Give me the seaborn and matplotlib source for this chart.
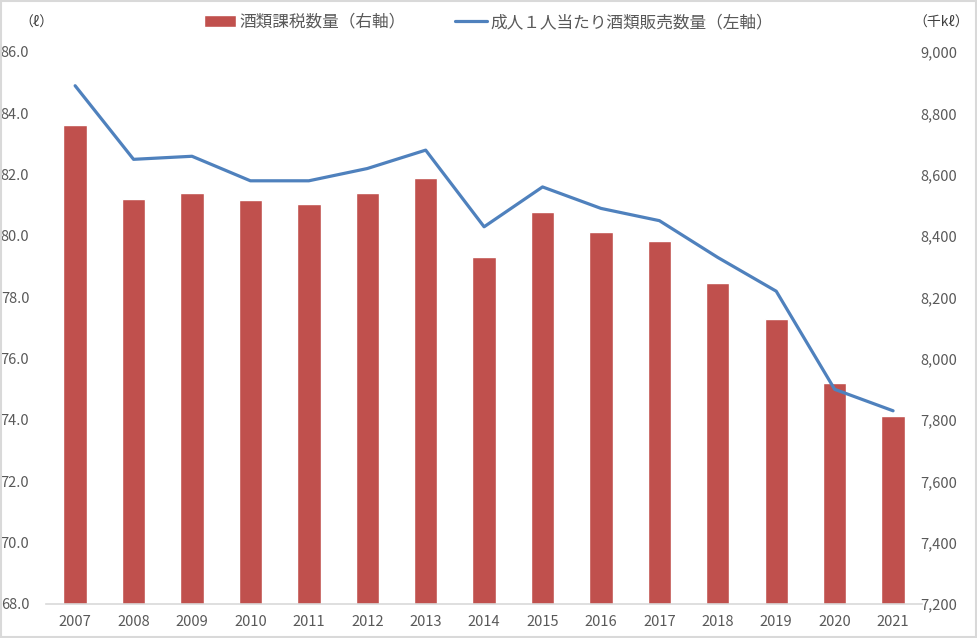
import numpy as np
import pandas as pd
import matplotlib
matplotlib.use("Agg")
import matplotlib.pyplot as plt
import seaborn as sns
from matplotlib.patches import Rectangle

years = ["2007", "2008", "2009", "2010", "2011", "2012", "2013", "2014",
         "2015", "2016", "2017", "2018", "2019", "2020", "2021"]
# 酒類課税数量 (千kℓ), right axis
tax_volume = [8762, 8521, 8540, 8517, 8504, 8540, 8589, 8332,
              8478, 8413, 8384, 8247, 8129, 7921, 7813]
# 成人1人当たり酒類販売数量 (ℓ), left axis
per_adult = [84.9, 82.5, 82.6, 81.8, 81.8, 82.2, 82.8, 80.3,
             81.6, 80.9, 80.5, 79.3, 78.2, 75.0, 74.3]

bar_label = "酒類課税数量（右軸）"
line_label = "成人１人当たり酒類販売数量（左軸）"

sns.set_style("white")
plt.rcParams["font.family"] = ["Noto Sans CJK JP", "DejaVu Sans"]

df = pd.DataFrame({"year": years, "tax": tax_volume, "adult": per_adult})
df["pos"] = np.arange(len(years))

text_color = "#595959"
bar_color = "#C0504D"
line_color = "#4F81BD"

fig = plt.figure(figsize=(9.77, 6.38), dpi=100)
ax = fig.add_axes([0.047, 0.0533, 0.897, 0.8652])
ax2 = ax.twinx()

sns.barplot(data=df, x="pos", y="tax", color=bar_color, width=0.4,
            native_scale=True, ax=ax2, label=bar_label, saturation=1)
sns.lineplot(data=df, x="pos", y="adult", color=line_color, linewidth=2.3,
             ax=ax, label=line_label)

ax.set_zorder(ax2.get_zorder() + 1)
ax.patch.set_visible(False)

ax.set_xlim(-0.5, len(years) - 0.5)
ax.set_ylim(68, 86)
ax.set_yticks(np.arange(68, 86.1, 2))
ax.set_yticklabels([f"{v:.1f}" for v in np.arange(68, 86.1, 2)])
ax2.set_ylim(7200, 9000)
ax2.set_yticks(np.arange(7200, 9001, 200))
ax2.set_yticklabels([f"{v:,}" for v in range(7200, 9001, 200)])
ax.set_xticks(df["pos"])
ax.set_xticklabels(years)

for a in (ax, ax2):
    a.set_xlabel("")
    a.set_ylabel("")
    for s in ("top", "left", "right"):
        a.spines[s].set_visible(False)
    a.spines["bottom"].set_color("#d9d9d9")
    a.spines["bottom"].set_linewidth(1.2)
    a.tick_params(length=0, labelsize=10.5, colors=text_color)
    a.grid(False)
ax2.spines["bottom"].set_visible(False)
ax.tick_params(axis="y", pad=12)
ax.tick_params(axis="x", pad=8)
ax2.tick_params(axis="y", pad=25)
for lbl in ax2.get_yticklabels():
    lbl.set_horizontalalignment("right")

if ax.get_legend():
    ax.get_legend().remove()
if ax2.get_legend():
    ax2.get_legend().remove()
h1, l1 = ax2.get_legend_handles_labels()
h2, l2 = ax.get_legend_handles_labels()
fig.legend(h1 + h2, l1 + l2, loc="center", bbox_to_anchor=(0.5, 0.965),
           ncol=2, frameon=False, fontsize=12, labelcolor=text_color,
           handlelength=1.9, handletextpad=0.2, columnspacing=3.0)

fig.text(0.02, 0.965, "（ℓ）", fontsize=10, color="#404040", va="center")
fig.text(0.935, 0.965, "（千kℓ）", fontsize=10, color="#404040", va="center")

fig.patches.append(Rectangle((0.001, 0.001), 0.998, 0.998, transform=fig.transFigure,
                             fill=False, edgecolor="#d9d9d9", linewidth=1.5))

fig.savefig("out.png", dpi=100)
